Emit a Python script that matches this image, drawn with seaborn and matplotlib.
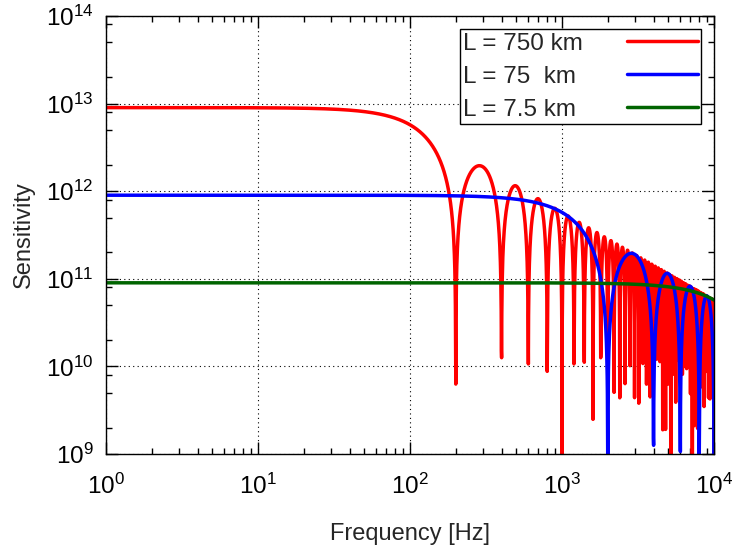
import numpy as np
import pandas as pd
import seaborn as sns
import matplotlib.pyplot as plt
from matplotlib.ticker import LogLocator, NullFormatter

# arm lengths [km], low-frequency sensitivity levels, legend text
arm_km = [750, 75, 7.5]
levels = [9e12, 9e11, 9e10]
labels = ["L = 750 km", "L = 75  km", "L = 7.5 km"]
colors = ["#ff0000", "#0000ff", "#006400"]
c_km = 3e5  # speed of light, km/s

# gnuplot-like sampling: 3001 log-spaced samples between 1 Hz and 10 kHz
freq = np.logspace(0, 4, 3001)

rows = []
for L, A, lab in zip(arm_km, levels, labels):
    x = 2 * np.pi * freq * L / c_km
    s = A * np.abs(np.sin(x) / x)
    rows.append(pd.DataFrame({"freq": freq, "sens": s, "label": lab}))
df = pd.concat(rows, ignore_index=True)

sns.set_theme(style="ticks")
plt.rcParams['font.family'] = ['Liberation Sans', 'DejaVu Sans']
plt.rcParams['mathtext.fontset'] = 'custom'
plt.rcParams['mathtext.rm'] = 'Liberation Sans'
plt.rcParams['mathtext.it'] = 'Liberation Sans:italic'
plt.rcParams['mathtext.bf'] = 'Liberation Sans:bold'

fig = plt.figure(figsize=(7.34, 5.5), dpi=100)
ax = fig.add_axes([106 / 734, 96 / 550, 608 / 734, 438 / 550])

sns.lineplot(data=df, x="freq", y="sens", hue="label", palette=colors,
             hue_order=labels, estimator=None, sort=False, lw=2.5, ax=ax)

ax.set_xscale("log")
ax.set_yscale("log")
ax.set_xlim(1, 1e4)
ax.set_ylim(1e9, 1e14)

ax.xaxis.set_major_locator(LogLocator(base=10, numticks=10))
ax.xaxis.set_minor_locator(LogLocator(base=10, subs=np.arange(2, 10), numticks=20))
ax.yaxis.set_major_locator(LogLocator(base=10, numticks=10))
ax.yaxis.set_minor_locator(LogLocator(base=10, subs=[2, 5, 8], numticks=20))
ax.xaxis.set_minor_formatter(NullFormatter())
ax.yaxis.set_minor_formatter(NullFormatter())

ax.tick_params(which="both", direction="in", top=True, right=True, colors="black")
ax.tick_params(which="major", length=8.5, width=1.0, labelsize=17.5)
ax.tick_params(which="minor", length=4.3, width=1.0)
ax.tick_params(axis="x", which="major", pad=14.5)
ax.tick_params(axis="y", which="major", pad=9)

for sp in ax.spines.values():
    sp.set_visible(True)
    sp.set_color("black")
    sp.set_linewidth(1.0)

ax.grid(which="major", ls=(0, (1, 3)), color="black", lw=0.8)
ax.grid(which="minor", visible=False)

ax.set_xlabel("Frequency [Hz]", fontsize=17, labelpad=17)
ax.set_ylabel("Sensitivity", fontsize=17, labelpad=8)

handles, labs = ax.get_legend_handles_labels()
for h in handles:
    h.set_linewidth(2.5)
fs = 17.5
pad_txt = 1.8
leg = ax.legend(handles, labs, loc="upper right", bbox_to_anchor=(0.979, 0.970),
                borderaxespad=0, markerfirst=False, fontsize=fs, handlelength=2.9,
                handletextpad=pad_txt, labelspacing=0.45, borderpad=0.15,
                fancybox=False, framealpha=1, edgecolor="black")
leg.get_frame().set_linewidth(1.0)

# gnuplot keys: text left-aligned, sample lines in one right-aligned column
fig.canvas.draw()
r = fig.canvas.get_renderer()
widths = [t.get_window_extent(r).width for t in leg.texts]
maxw = max(widths)
for col in leg._legend_handle_box.get_children():
    col.align = "left"
    for row, w in zip(col.get_children(), widths):
        row.sep = pad_txt * fs + (maxw - w) * 72 / fig.dpi

fig.savefig("out.png", dpi=100)
